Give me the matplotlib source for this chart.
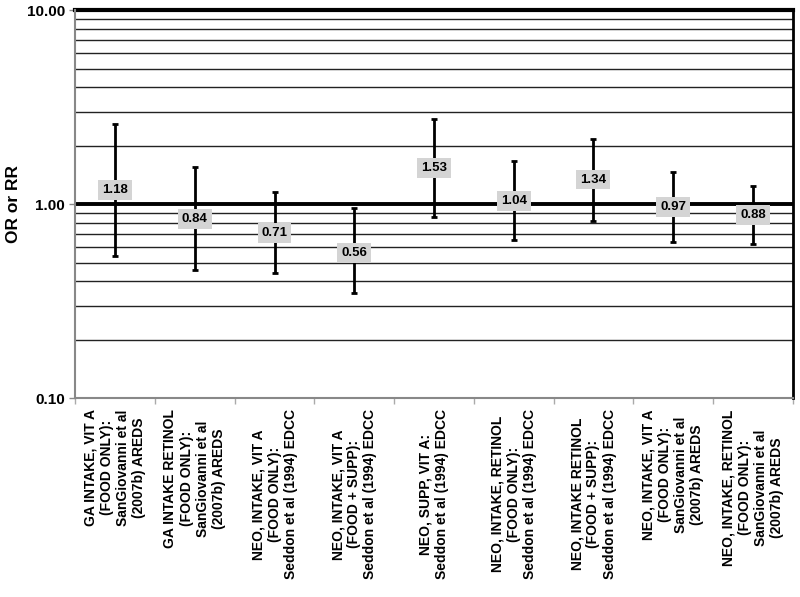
import matplotlib.pyplot as plt
import numpy as np
from matplotlib.ticker import FixedLocator, NullFormatter

plt.rcParams['font.family'] = ['Liberation Sans', 'DejaVu Sans']
plt.rcParams['font.weight'] = 'bold'

# study labels (x categories)
labels = [
    "GA INTAKE, VIT A\n(FOOD ONLY):\nSanGiovanni et al\n(2007b) AREDS",
    "GA INTAKE RETINOL\n(FOOD ONLY):\nSanGiovanni et al\n(2007b) AREDS",
    "NEO, INTAKE, VIT A\n(FOOD ONLY):\nSeddon et al (1994) EDCC",
    "NEO, INTAKE, VIT A\n(FOOD + SUPP):\nSeddon et al (1994) EDCC",
    "NEO, SUPP, VIT A:\nSeddon et al (1994) EDCC",
    "NEO, INTAKE, RETINOL\n(FOOD ONLY):\nSeddon et al (1994) EDCC",
    "NEO, INTAKE RETINOL\n(FOOD + SUPP):\nSeddon et al (1994) EDCC",
    "NEO, INTAKE, VIT A\n(FOOD ONLY):\nSanGiovanni et al\n(2007b) AREDS",
    "NEO, INTAKE, RETINOL\n(FOOD ONLY):\nSanGiovanni et al\n(2007b) AREDS",
]
estimate = [1.18, 0.84, 0.71, 0.56, 1.53, 1.04, 1.34, 0.97, 0.88]
ci_low = [0.54, 0.46, 0.44, 0.35, 0.86, 0.65, 0.82, 0.64, 0.62]
ci_high = [2.58, 1.55, 1.15, 0.96, 2.74, 1.67, 2.16, 1.46, 1.24]

x = np.arange(len(labels))
est = np.array(estimate)
yerr = [est - np.array(ci_low), np.array(ci_high) - est]

fig = plt.figure(figsize=(8, 5.97), dpi=100)
ax = fig.add_axes([0.094, 0.333, 0.897, 0.650])
ax.set_yscale('log')
ax.set_ylim(0.1, 10)
ax.set_xlim(-0.5, len(labels) - 0.5)

# horizontal grid: thin minor lines, thick line at 1 and 10
for v in [0.2, 0.3, 0.4, 0.5, 0.6, 0.7, 0.8, 0.9, 2, 3, 4, 5, 6, 7, 8, 9]:
    ax.axhline(v, color='#222222', lw=1.0, zorder=1)
ax.axhline(1, color='black', lw=2.8, zorder=2)
ax.axhline(10, color='black', lw=3, zorder=2, clip_on=False)

ax.errorbar(x, est, yerr=yerr, fmt='none', ecolor='black', elinewidth=2,
            capsize=2.5, capthick=2, zorder=3)

for xi, v in zip(x, estimate):
    ax.text(xi, v, f"{v:.2f}", ha='center', va='center', fontsize=9.5,
            fontweight='bold', zorder=4,
            bbox=dict(boxstyle='square,pad=0.3', fc='#d4d4d4', ec='none'))

ax.yaxis.set_major_locator(FixedLocator([0.1, 1, 10]))
ax.yaxis.set_minor_locator(FixedLocator([]))
ax.set_yticklabels(['0.10', '1.00', '10.00'], fontsize=11, fontweight='bold')
ax.yaxis.set_minor_formatter(NullFormatter())
ax.tick_params(axis='y', length=4, color='#888888', width=1)
ax.set_ylabel('OR or RR', fontsize=12.5, fontweight='bold', labelpad=4)

ax.set_xticks(x)
ax.set_xticklabels(labels, rotation=90, fontsize=10, fontweight='bold',
                   ha='center', va='top', multialignment='center',
                   linespacing=1.2)
ax.tick_params(axis='x', which='major', length=0, pad=8)
ax.set_xticks(np.arange(-0.5, len(labels), 1), minor=True)
ax.tick_params(axis='x', which='minor', length=4, color='#aaaaaa', width=1)

ax.spines['left'].set_color('#888888')
ax.spines['left'].set_linewidth(1.5)
ax.spines['bottom'].set_color('#888888')
ax.spines['bottom'].set_linewidth(1.5)
ax.spines['right'].set_color('black')
ax.spines['right'].set_linewidth(2)
ax.spines['top'].set_visible(False)

plt.savefig('out.png', dpi=100)
